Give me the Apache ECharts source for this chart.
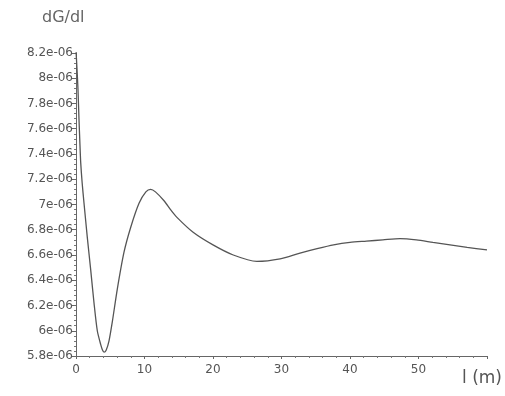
<!DOCTYPE html>
<html><head><meta charset="utf-8">
<script src="https://cdn.jsdelivr.net/npm/echarts@6/dist/echarts.min.js"></script>
<style>html,body{margin:0;padding:0;background:#fff}#c{width:505px;height:396px}</style>
</head><body><div id="c"></div>
<script>
// l (m)
const lengths = [0, 0.15, 0.29, 0.44, 0.58, 0.69, 0.9, 1.17, 1.65, 2.15, 2.63, 3.11, 3.61, 3.85, 4.09, 4.4, 4.82, 5.3, 6.03, 7.0, 7.99, 9.2, 10.2, 10.9, 11.6, 12.85, 13.8, 14.7, 17.1, 20, 22.96, 26.4, 29.8, 32.7, 35.2, 37.6, 40, 42.4, 44.8, 47.3, 49.7, 52.1, 54.6, 57.1, 60];
// dG/dl values
const dGdl = [8.22e-6, 8.07e-6, 7.91e-6, 7.67e-6, 7.47e-6, 7.33e-6, 7.17e-6, 7.01e-6, 6.74e-6, 6.48e-6, 6.22e-6, 6.00e-6, 5.89e-6, 5.85e-6, 5.83e-6, 5.845e-6, 5.92e-6, 6.07e-6, 6.33e-6, 6.62e-6, 6.82e-6, 7.01e-6, 7.10e-6, 7.12e-6, 7.10e-6, 7.03e-6, 6.96e-6, 6.90e-6, 6.78e-6, 6.68e-6, 6.60e-6, 6.55e-6, 6.57e-6, 6.615e-6, 6.65e-6, 6.68e-6, 6.70e-6, 6.71e-6, 6.72e-6, 6.73e-6, 6.72e-6, 6.70e-6, 6.68e-6, 6.66e-6, 6.64e-6];
const yTitle = 'dG/dl';
const xTitle = 'l (m)';

const pts = lengths.map((l, i) => [l, dGdl[i]]);
const chart = echarts.init(document.getElementById('c'), null, {renderer: 'canvas'});
const txt = {color: '#555', fontFamily: 'DejaVu Sans, sans-serif', fontSize: 12};
chart.setOption({
  animation: false,
  backgroundColor: '#fff',
  grid: {left: 76, right: 18, top: 53, bottom: 40, containLabel: false},
  xAxis: {
    type: 'value', min: 0, max: 60, interval: 10,
    axisLine: {lineStyle: {color: '#666'}},
    axisTick: {length: 3, lineStyle: {color: '#666'}},
    minorTick: {show: true, splitNumber: 5, length: 2, lineStyle: {color: '#777'}},
    splitLine: {show: false},
    axisLabel: Object.assign({margin: 8, showMaxLabel: false}, txt)
  },
  yAxis: {
    type: 'value', min: 5.8e-6, max: 8.2e-6, interval: 0.2e-6,
    axisLine: {show: true, lineStyle: {color: '#666'}},
    axisTick: {show: true, length: 4, lineStyle: {color: '#666'}},
    minorTick: {show: true, splitNumber: 5, length: 2, lineStyle: {color: '#777'}},
    splitLine: {show: false},
    axisLabel: Object.assign({margin: 3, formatter: v => (Math.round(v * 1e7) / 10) + 'e-06'}, txt)
  },
  graphic: [
    {type: 'text', left: 42, top: 10, style: {text: yTitle, fill: '#666', font: '16px DejaVu Sans, sans-serif'}},
    {type: 'text', left: 462, top: 370, style: {text: xTitle, fill: '#555', font: '17px DejaVu Sans, sans-serif'}}
  ],
  series: [{
    type: 'line', data: pts, smooth: 0.25, showSymbol: false,
    lineStyle: {color: '#555', width: 1.3}
  }]
});
</script></body></html>
